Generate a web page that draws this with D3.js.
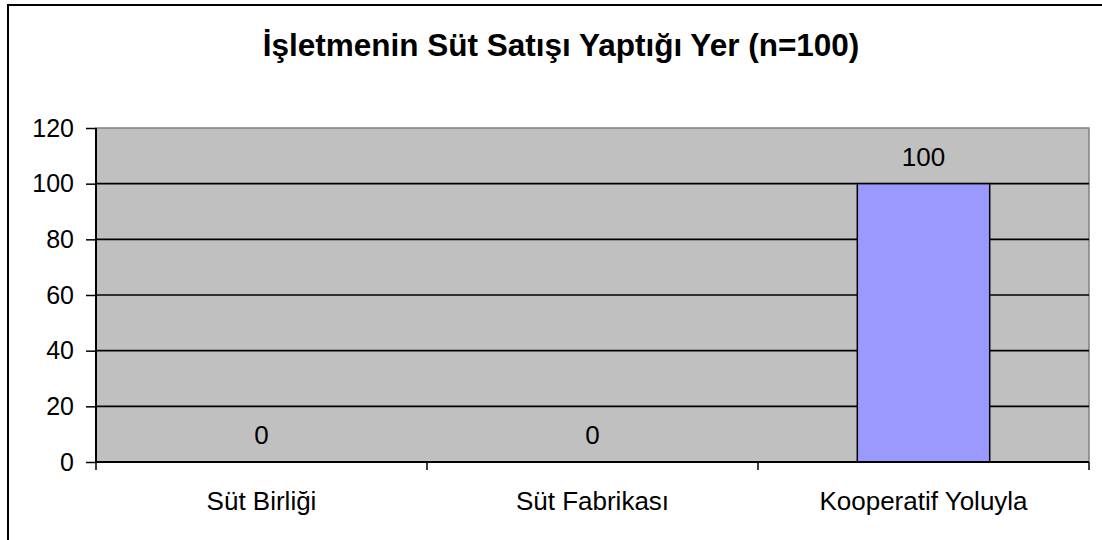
<!DOCTYPE html>
<html><head><meta charset="utf-8">
<script src="https://cdn.jsdelivr.net/npm/d3@7"></script>
<style>body{margin:0;background:#fff;}svg{display:block;}text{font-family:"Liberation Sans",Arial,sans-serif;fill:#000;}</style>
</head><body>
<svg id="c" width="1102" height="540"></svg>
<script>
const title = "İşletmenin Süt Satışı Yaptığı Yer (n=100)";
const categories = ["Süt Birliği", "Süt Fabrikası", "Kooperatif Yoluyla"];
const values = [0, 0, 100];
const yTicks = [0, 20, 40, 60, 80, 100, 120];

const svg = d3.select("#c");
const m = {l: 96, t: 128, r: 1089, b: 462};

// outer chart border (extends beyond view on right/bottom)
svg.append("rect").attr("x", 8).attr("y", 5).attr("width", 1200).attr("height", 600)
  .attr("fill", "#fff").attr("stroke", "#000").attr("stroke-width", 2);

svg.append("text").attr("x", 561).attr("y", 56).attr("text-anchor", "middle")
  .style("font-size", "31.5px").style("font-weight", "bold").text(title);

const x = d3.scaleBand().domain(categories).range([m.l, m.r]).paddingInner(0.6).paddingOuter(0.3);
const xb = d3.scaleBand().domain(categories).range([m.l, m.r]);
const y = d3.scaleLinear().domain([0, 120]).range([m.b, m.t]);

// plot area
svg.append("rect").attr("x", m.l).attr("y", m.t).attr("width", m.r - m.l).attr("height", m.b - m.t)
  .attr("fill", "#C0C0C0").attr("stroke", "#808080").attr("stroke-width", 1.5);

// gridlines
svg.append("g").selectAll("line").data(yTicks.filter(d => d > 0 && d < 120)).join("line")
  .attr("x1", m.l).attr("x2", m.r).attr("y1", d => y(d)).attr("y2", d => y(d))
  .attr("stroke", "#000").attr("stroke-width", 1.6);

// bars
svg.append("g").selectAll("rect").data(categories).join("rect")
  .attr("x", (d) => x(d)).attr("width", x.bandwidth())
  .attr("y", (d, i) => y(values[i])).attr("height", (d, i) => y(0) - y(values[i]))
  .attr("fill", "#9999FF").attr("stroke", "#000").attr("stroke-width", 1.5);

// y axis
const ya = d3.axisLeft(y).tickValues(yTicks).tickSize(10).tickPadding(12);
const yg = svg.append("g").attr("transform", `translate(${m.l},0)`).call(ya);
yg.select(".domain").attr("stroke", "#000").attr("stroke-width", 2).attr("d", `M0,${m.t}V${m.b}`);
yg.selectAll(".tick line").attr("stroke", "#000").attr("stroke-width", 1.5);
yg.selectAll(".tick text").style("font-size", "25px").style("font-family", "Liberation Sans, Arial, sans-serif").attr("fill", "#000");

// x axis
const xg = svg.append("g").attr("transform", `translate(0,${m.b})`);
xg.append("line").attr("x1", m.l).attr("x2", m.r).attr("stroke", "#000").attr("stroke-width", 2);
const bounds = categories.map(c => xb(c)).concat([m.r]);
xg.selectAll("line.tk").data(bounds).join("line").attr("class", "tk")
  .attr("x1", d => d).attr("x2", d => d).attr("y1", 0).attr("y2", 8)
  .attr("stroke", "#000").attr("stroke-width", 1.5);
xg.selectAll("text").data(categories).join("text")
  .attr("x", d => xb(d) + xb.bandwidth() / 2).attr("y", 48).attr("text-anchor", "middle")
  .style("font-size", "26px").text(d => d);

// data labels
svg.append("g").selectAll("text").data(categories).join("text")
  .attr("x", d => x(d) + x.bandwidth() / 2).attr("y", (d, i) => y(values[i]) - 18)
  .attr("text-anchor", "middle").style("font-size", "26px").text((d, i) => values[i]);
</script>
</body></html>
